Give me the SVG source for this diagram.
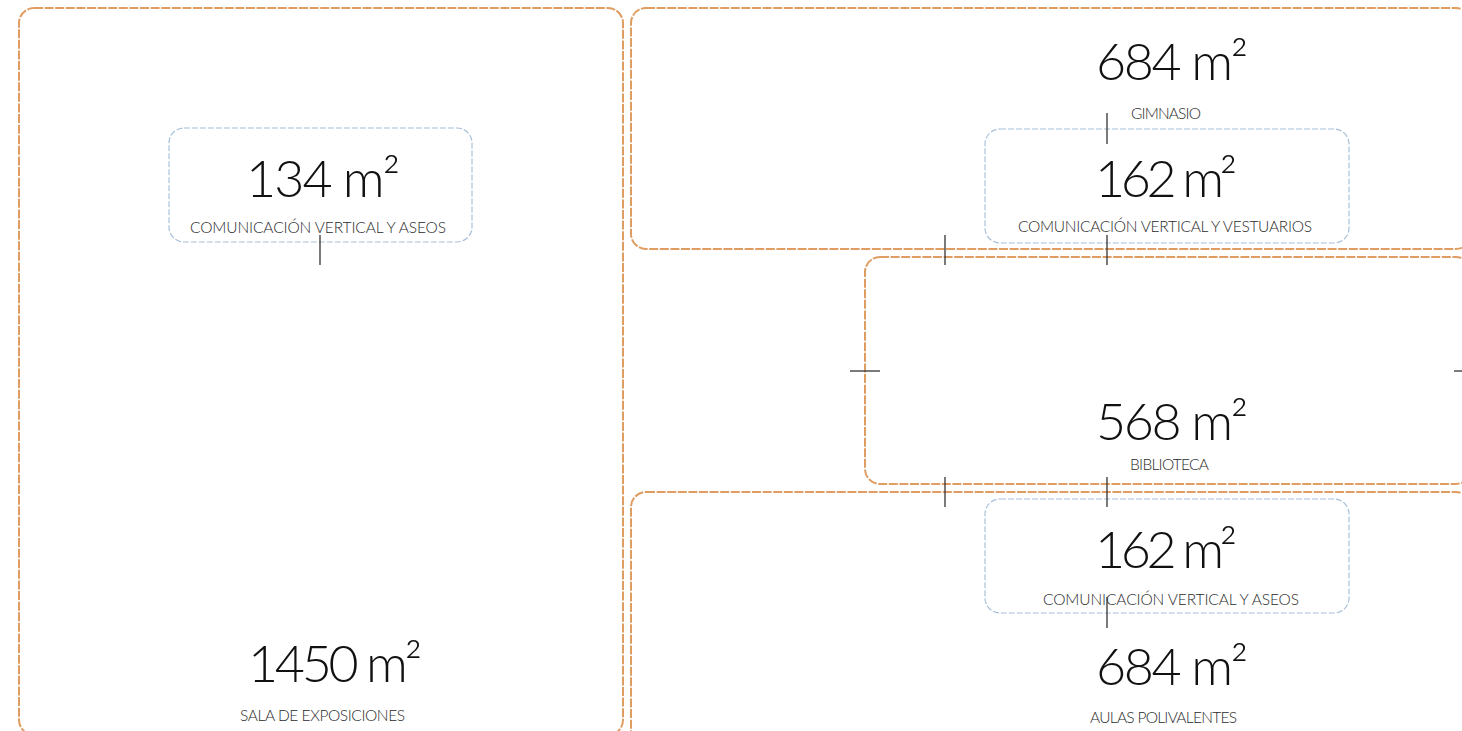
<svg xmlns="http://www.w3.org/2000/svg" width="1462" height="731" viewBox="0 0 1462 731">
<style>
.zone{fill:none;stroke:#E09D62;stroke-width:2;stroke-dasharray:9 1.6}
.core{fill:none;stroke:#A9C0DA;stroke-width:1.2;stroke-dasharray:6 2}
.num{font-family:Lato,"Liberation Sans",sans-serif;font-weight:300;font-size:52px;fill:#111}
.lbl{font-family:Lato,"Liberation Sans",sans-serif;font-weight:300;font-size:15.5px;fill:#2a2a2a}
.tick{stroke:#333;stroke-width:1.3;fill:none}
</style>
<rect width="1462" height="731" fill="#fff"/>
<g id="sala-exposiciones">
<rect class="zone" x="19" y="8" width="604" height="727" rx="15"/>
<text class="num" x="248" y="682" textLength="174">1450 m²</text>
<text class="lbl" x="240" y="721" textLength="165">SALA DE EXPOSICIONES</text>
</g>
<g id="gimnasio">
<rect class="zone" x="631" y="8" width="840" height="241" rx="15"/>
<text class="num" x="1096" y="80" textLength="152">684 m²</text>
<text class="lbl" x="1131" y="119" textLength="70">GIMNASIO</text>
</g>
<g id="biblioteca">
<rect class="zone" x="865" y="257" width="606" height="227" rx="15"/>
<text class="num" x="1096" y="440" textLength="152">568 m²</text>
<text class="lbl" x="1130" y="470" textLength="79">BIBLIOTECA</text>
</g>
<g id="aulas-polivalentes">
<rect class="zone" x="631" y="492" width="840" height="255" rx="15"/>
<text class="num" x="1096" y="685" textLength="152">684 m²</text>
<text class="lbl" x="1090" y="723" textLength="147">AULAS POLIVALENTES</text>
</g>
<g id="com-vertical-aseos-1">
<rect class="core" x="169" y="128" width="303" height="114" rx="15"/>
<text class="num" x="246" y="197" textLength="154">134 m²</text>
<text class="lbl" x="190" y="233" textLength="256">COMUNICACIÓN VERTICAL Y ASEOS</text>
</g>
<g id="com-vertical-vestuarios">
<rect class="core" x="985" y="129" width="364" height="114" rx="15"/>
<text class="num" x="1095" y="197" textLength="142">162 m²</text>
<text class="lbl" x="1018" y="232" textLength="294">COMUNICACIÓN VERTICAL Y VESTUARIOS</text>
</g>
<g id="com-vertical-aseos-2">
<rect class="core" x="985" y="499" width="364" height="114" rx="15"/>
<text class="num" x="1095" y="568" textLength="142">162 m²</text>
<text class="lbl" x="1043" y="605" textLength="256">COMUNICACIÓN VERTICAL Y ASEOS</text>
</g>
<g id="connectors">
<line class="tick" x1="320" y1="235" x2="320" y2="265"/>
<line class="tick" x1="1107" y1="113" x2="1107" y2="144"/>
<line class="tick" x1="1107" y1="235" x2="1107" y2="265"/>
<line class="tick" x1="945" y1="235" x2="945" y2="265"/>
<line class="tick" x1="850" y1="371" x2="880" y2="371"/>
<line class="tick" x1="1454" y1="371" x2="1462" y2="371"/>
<line class="tick" x1="945" y1="477" x2="945" y2="507"/>
<line class="tick" x1="1107" y1="477" x2="1107" y2="507"/>
<line class="tick" x1="1107" y1="597" x2="1107" y2="628"/>
</g>
</svg>
